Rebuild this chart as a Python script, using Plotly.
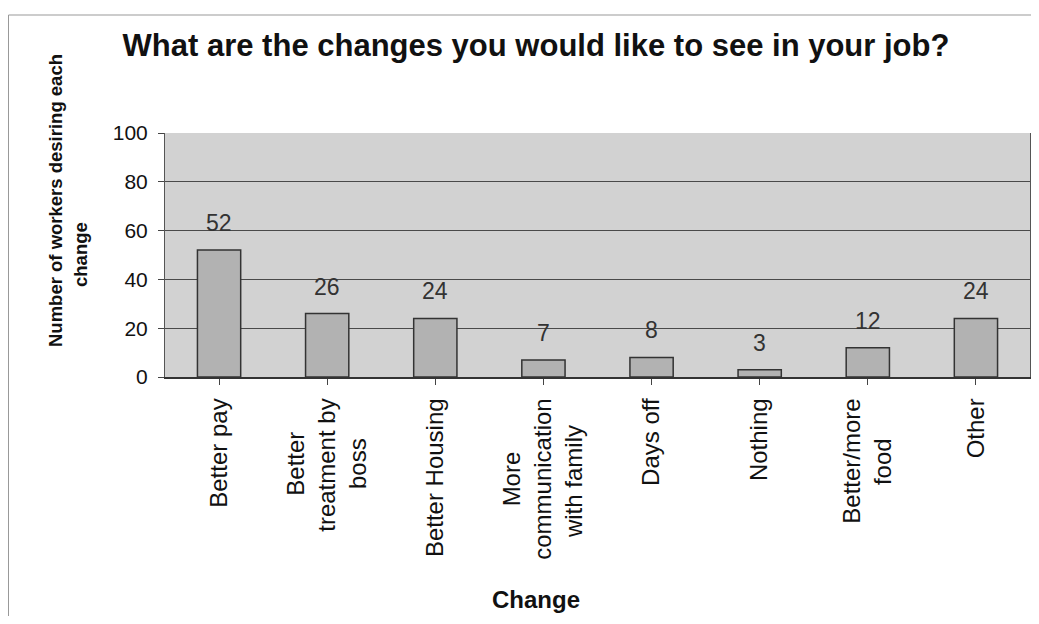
import plotly.graph_objects as go

categories = ["Better pay", "Better<br>treatment by<br>boss", "Better Housing",
              "More<br>communication<br>with family", "Days off", "Nothing",
              "Better/more<br>food", "Other"]
values = [52, 26, 24, 7, 8, 3, 12, 24]
y_ticks = [0, 20, 40, 60, 80, 100]

# page body has an 8px margin; design in reference pixel coordinates then shift
OFF = 8
W, H = 1039 - 2 * OFF, 624 - 2 * OFF
PL, PR, PT, PB = 165, 1030, 133, 377  # plot area in reference pixels
ML, MT = PL - OFF, PT - OFF
MR = max(0, W - (PR - OFF))
MB = H - (PB - OFF)
PW, PH = W - ML - MR, H - MT - MB

def px_x(p):
    return (p - PL) / PW

def px_y(p):
    return (PB - p) / PH

FONT = "Liberation Sans, Arial, sans-serif"

# approximate Arial advance widths (1/1000 em) to centre multi-line rotated labels
_AW = {" ": 278, "/": 278, "B": 667, "M": 833, "D": 722, "N": 722, "O": 778, "H": 722,
       "a": 556, "b": 556, "c": 500, "d": 556, "e": 556, "f": 278, "g": 556, "h": 556,
       "i": 222, "k": 500, "l": 222, "m": 833, "n": 556, "o": 556, "p": 556, "r": 333,
       "s": 500, "t": 278, "u": 556, "w": 722, "y": 500}

def centred(label):
    lines = label.split("<br>")
    if len(lines) == 1:
        return label
    w = [sum(_AW.get(c, 556) for c in ln) for ln in lines]
    mw = max(w)
    return "<br>".join(ln + "\u00a0" * round((mw - wi) / 2 / 278) for ln, wi in zip(lines, w))

tick_text = [centred(c) for c in categories]

fig = go.Figure()
fig.add_trace(go.Bar(
    x=list(range(len(categories))), y=values,
    width=0.4,
    marker=dict(color="#b2b2b2", line=dict(color="#333333", width=1.5)),
    hoverinfo="skip",
))

for i, v in enumerate(values):
    fig.add_annotation(x=i, y=v, text=str(v), showarrow=False,
                       yanchor="bottom", yshift=12,
                       font=dict(family=FONT, size=23, color="#333333"))

fig.add_annotation(xref="paper", yref="paper", x=px_x(55), y=px_y(201),
                   text="<b>Number of workers desiring each</b>", textangle=-90,
                   showarrow=False, xanchor="center", yanchor="middle",
                   font=dict(family=FONT, size=18.5, color="#111111"))
fig.add_annotation(xref="paper", yref="paper", x=px_x(80), y=px_y(255),
                   text="<b>change</b>", textangle=-90,
                   showarrow=False, xanchor="center", yanchor="middle",
                   font=dict(family=FONT, size=18.5, color="#111111"))
fig.add_annotation(xref="paper", yref="paper", x=px_x(536), y=px_y(599),
                   text="<b>Change</b>", showarrow=False,
                   xanchor="center", yanchor="middle",
                   font=dict(family=FONT, size=24, color="#111111"))

fig.add_shape(type="rect", xref="paper", yref="paper",
              x0=px_x(8.5), x1=px_x(1037), y0=px_y(622), y1=px_y(15),
              line=dict(color="#999999", width=1), layer="below")

fig.update_layout(
    width=W, height=H,
    margin=dict(l=ML, r=MR, t=MT, b=MB, pad=0),
    paper_bgcolor="white",
    plot_bgcolor="#d2d2d2",
    showlegend=False,
    title=dict(text="<b>What are the changes you would like to see in your job?</b>",
               x=(536 - OFF) / W, xanchor="center",
               y=1 - (45 - OFF) / H, yanchor="middle", yref="container",
               font=dict(family=FONT, size=31, color="#111111")),
    xaxis=dict(
        tickmode="array", tickvals=list(range(len(categories))), ticktext=tick_text,
        tickangle=-90, tickson="boundaries", ticks="outside", ticklen=6,
        tickcolor="#444444", range=[-0.5, len(categories) - 0.5],
        showline=True, linecolor="#333333", linewidth=1.5, mirror=False,
        showgrid=False, ticklabelstandoff=4,
        tickfont=dict(family=FONT, size=24, color="#111111"),
    ),
    yaxis=dict(
        range=[0, 100], tickvals=y_ticks, ticks="outside", ticklen=6,
        tickcolor="#444444", showline=True, linecolor="#555555", linewidth=1,
        mirror=True, showgrid=True, gridcolor="#4a4a4a", gridwidth=1.2,
        zeroline=False, ticklabelstandoff=6,
        tickfont=dict(family=FONT, size=21, color="#111111"),
    ),
)

fig.write_html("out.html")
